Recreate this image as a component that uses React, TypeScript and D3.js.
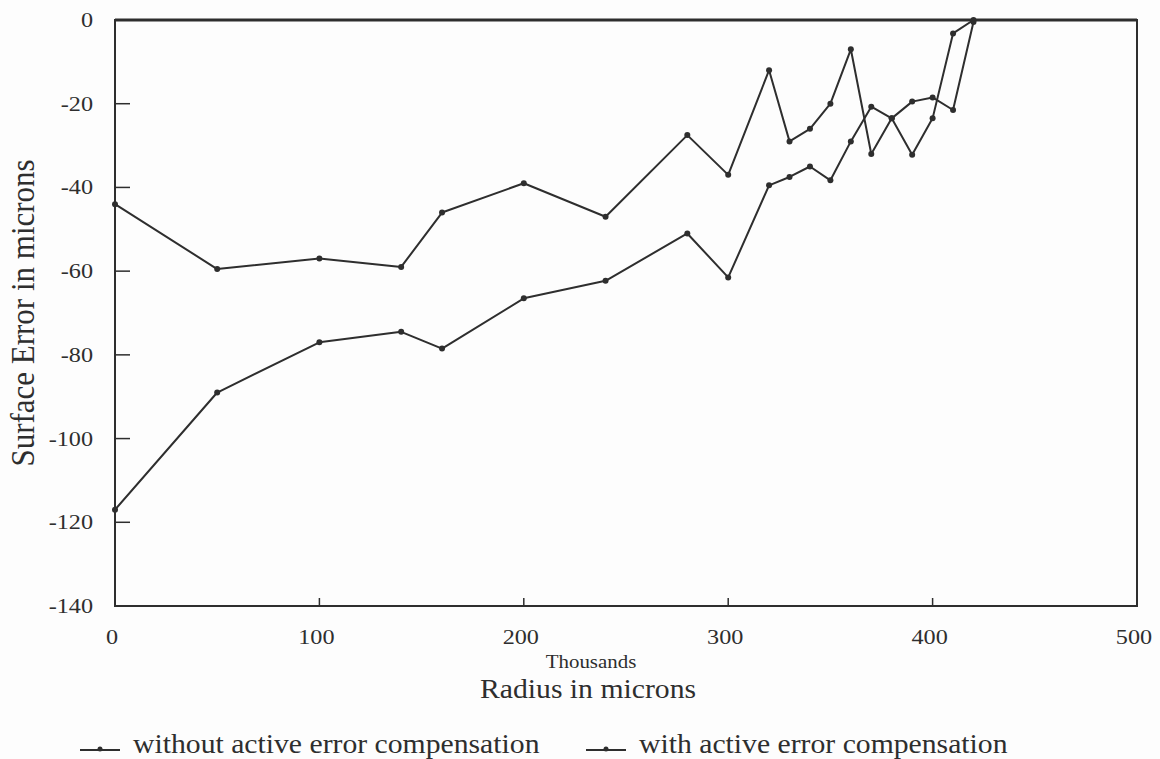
import React from "react";
import * as d3 from "d3";

// radius in thousands of microns
const radius = [0, 50, 100, 140, 160, 200, 240, 280, 300, 320, 330, 340, 350, 360, 370, 380, 390, 400, 410, 420];
// surface error in microns
const withComp = [-44, -59.5, -57, -59, -46, -39, -47, -27.5, -37, -12, -29, -26, -20, -7, -32, -23.5, -19.5, -18.5, -21.5, -0.5];
const withoutComp = [-117, -89, -77, -74.5, -78.5, -66.5, -62.3, -51, -61.5, -39.5, -37.5, -35, -38.3, -29, -20.7, -23.5, -32.2, -23.5, -3.2, 0];

const xTicks = [0, 100, 200, 300, 400, 500];
const yTicks = [0, -20, -40, -60, -80, -100, -120, -140];
const legendLabels = ["without active error compensation", "with active error compensation"];

const W = 1160;
const H = 759;
const m = { left: 115, right: 23, top: 20, bottom: 153 };
const ink = "#2e2e2e";
const font = "'Liberation Serif', 'Times New Roman', serif";
const sx = 1.1; // the scan is a little wider than it is tall

function T({ x, y, size, anchor = "start", children }: any) {
  return (
    <text
      transform={`translate(${x},${y}) scale(${sx},1)`}
      fontSize={size}
      textAnchor={anchor}
      fill={ink}
      fontFamily={font}
    >
      {children}
    </text>
  );
}

export default function App() {
  const x = d3.scaleLinear().domain([0, 500]).range([m.left, W - m.right]);
  const y = d3.scaleLinear().domain([-140, 0]).range([H - m.bottom, m.top]);

  const line = d3
    .line<number>()
    .x((_, i) => x(radius[i]))
    .y((d) => y(d));

  const series = [withoutComp, withComp];

  return (
    <div style={{ position: "absolute", left: 0, top: 0, background: "#fff" }}>
      <svg width={W} height={H} style={{ display: "block" }}>
        <rect width={W} height={H} fill="#fdfdfd" />

        {/* frame */}
        <rect
          x={x(0)}
          y={y(0)}
          width={x(500) - x(0)}
          height={y(-140) - y(0)}
          fill="none"
          stroke={ink}
          strokeWidth={2}
        />
        <line x1={x(0)} x2={x(500)} y1={y(0)} y2={y(0)} stroke={ink} strokeWidth={3} />

        {/* y ticks */}
        {yTicks.map((t) => (
          <g key={t}>
            {t !== 0 && t !== -140 && (
              <line x1={x(0)} x2={x(0) + 15} y1={y(t)} y2={y(t)} stroke={ink} strokeWidth={1.5} />
            )}
            <T x={93} y={y(t) + 7} size={22} anchor="end">
              {t}
            </T>
          </g>
        ))}

        {/* x ticks */}
        {xTicks.map((t) => (
          <g key={t}>
            {t !== 0 && t !== 500 && (
              <line x1={x(t)} x2={x(t)} y1={y(-140)} y2={y(-140) - 8} stroke={ink} strokeWidth={1.5} />
            )}
            <T x={x(t) - 3} y={644} size={22} anchor="middle">
              {t}
            </T>
          </g>
        ))}

        <T x={591} y={668} size={19} anchor="middle">
          Thousands
        </T>
        <T x={588} y={698} size={27} anchor="middle">
          Radius in microns
        </T>

        <text
          transform={`translate(34,${(y(0) + y(-140)) / 2}) scale(${sx},1) rotate(-90)`}
          fontSize={31}
          textAnchor="middle"
          fill={ink}
          fontFamily={font}
        >
          Surface Error in microns
        </text>

        {/* series */}
        {series.map((s, k) => (
          <g key={k}>
            <path d={line(s) || ""} fill="none" stroke={ink} strokeWidth={2} strokeLinejoin="round" />
            {s.map((v, i) => (
              <circle key={i} cx={x(radius[i])} cy={y(v)} r={3} fill={ink} />
            ))}
          </g>
        ))}

        {/* legend */}
        {legendLabels.map((lab, k) => {
          const lx = k === 0 ? 80 : 586;
          return (
            <g key={lab}>
              <line x1={lx} x2={lx + 40} y1={750} y2={750} stroke={ink} strokeWidth={2} />
              <circle cx={lx + 20} cy={749} r={2.5} fill={ink} />
              <T x={lx + 53} y={753} size={27}>
                {lab}
              </T>
            </g>
          );
        })}
      </svg>
    </div>
  );
}
